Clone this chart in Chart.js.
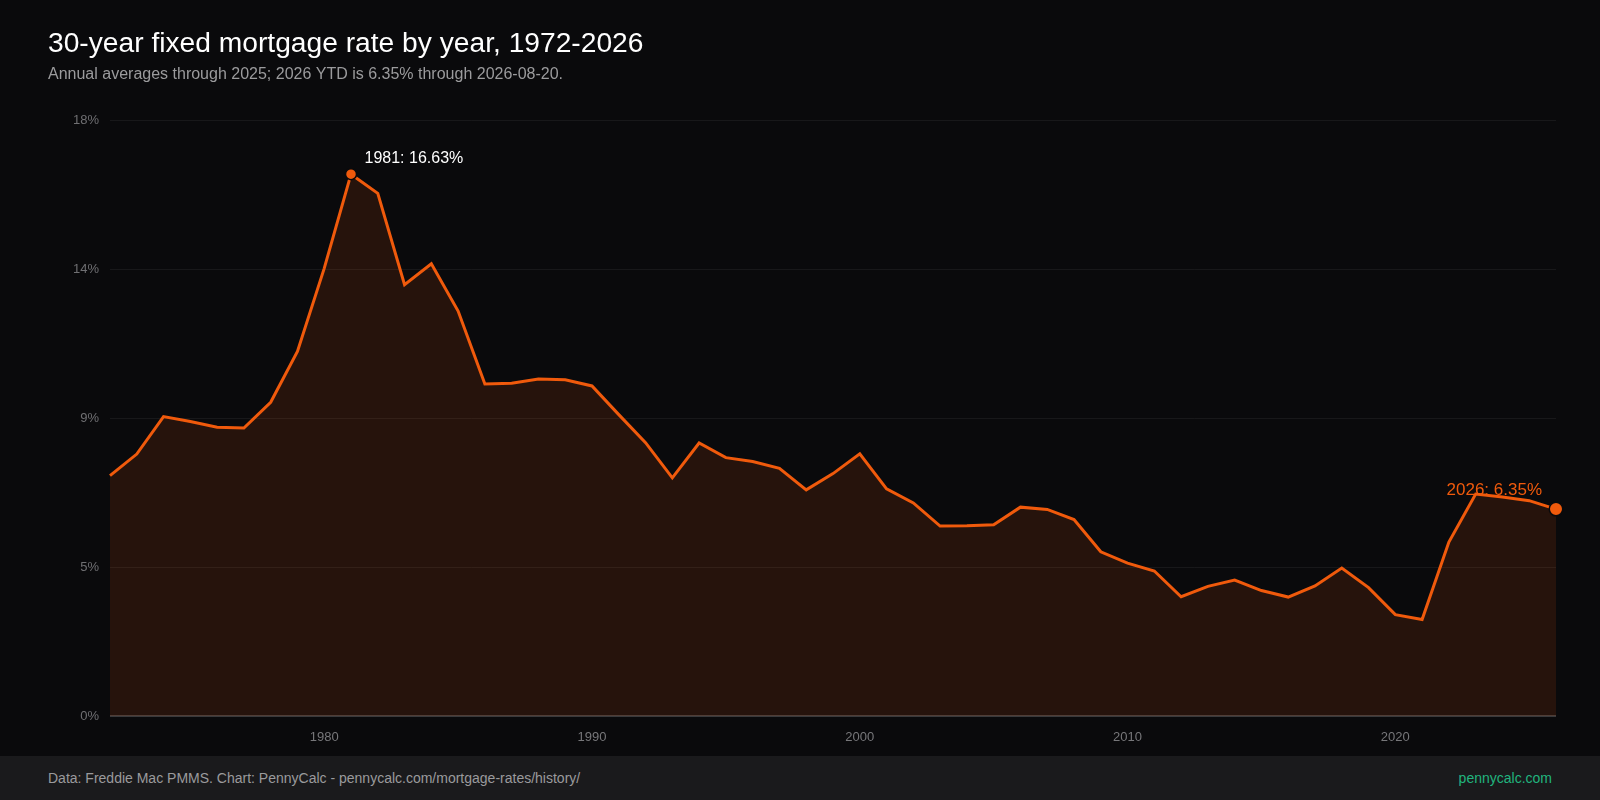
<!DOCTYPE html>
<html>
<head>
<meta charset="utf-8">
<title>30-year fixed mortgage rate by year, 1972-2026</title>
<script src="https://cdn.jsdelivr.net/npm/chart.js@4.4.1/dist/chart.umd.min.js"></script>
<style>
  html, body { margin: 0; padding: 0; background: #0a0a0c; }
  #wrap { width: 1600px; height: 756px; position: relative; }
  #footer {
    width: 1600px; height: 44px; line-height: 44px; background: #1a1a1c;
    position: relative; font-family: "Liberation Sans", Arial, Helvetica, sans-serif; font-size: 14px;
  }
  #footer .src { position: absolute; left: 48px; top: 0; color: #9a9a9c; }
  #footer .brand { position: absolute; right: 48px; top: 0; color: #21b47e; }
</style>
</head>
<body>
<div id="wrap"><canvas id="rateChart" width="1600" height="756"></canvas></div>
<div id="footer">
  <span class="src">Data: Freddie Mac PMMS. Chart: PennyCalc - pennycalc.com/mortgage-rates/history/</span>
  <span class="brand">pennycalc.com</span>
</div>
<script>
"use strict";

/*-- data --*/
var years = [1972, 1973, 1974, 1975, 1976, 1977, 1978, 1979, 1980, 1981,
             1982, 1983, 1984, 1985, 1986, 1987, 1988, 1989, 1990, 1991,
             1992, 1993, 1994, 1995, 1996, 1997, 1998, 1999, 2000, 2001,
             2002, 2003, 2004, 2005, 2006, 2007, 2008, 2009, 2010, 2011,
             2012, 2013, 2014, 2015, 2016, 2017, 2018, 2019, 2020, 2021,
             2022, 2023, 2024, 2025, 2026];
var rates = [7.38, 8.04, 9.19, 9.04, 8.86, 8.84, 9.63, 11.19, 13.74, 16.63,
             16.04, 13.24, 13.88, 12.43, 10.19, 10.21, 10.34, 10.32, 10.13, 9.25,
             8.39, 7.31, 8.38, 7.93, 7.81, 7.60, 6.94, 7.44, 8.05, 6.97,
             6.54, 5.83, 5.84, 5.87, 6.41, 6.34, 6.03, 5.04, 4.69, 4.45,
             3.66, 3.98, 4.17, 3.85, 3.65, 3.99, 4.54, 3.94, 3.11, 2.96,
             5.34, 6.81, 6.72, 6.61, 6.35];
var xTickYears = [1980, 1990, 2000, 2010, 2020];
var yTickLabels = ['0%', '5%', '9%', '14%', '18%'];
var highlightYears = [1981, 2026];

var FONT = '"Liberation Sans", Arial, Helvetica, sans-serif';
var ORANGE = '#f05a0c';
var yMax = Math.max.apply(null, rates) * 1.1;

/*-- header text --*/
var headerPlugin = {
  id: 'header',
  afterDraw: function (chart) {
    var ctx = chart.ctx;
    ctx.save();
    ctx.textAlign = 'left';
    ctx.textBaseline = 'alphabetic';
    ctx.fillStyle = '#ffffff';
    ctx.font = '28.2px ' + FONT;
    ctx.fillText('30-year fixed mortgage rate by year, 1972-2026', 48, 52);
    ctx.fillStyle = '#9b9b9d';
    ctx.font = '16px ' + FONT;
    ctx.fillText('Annual averages through 2025; 2026 YTD is 6.35% through 2026-08-20.', 48, 79);
    ctx.restore();
  }
};

/*-- point labels, drawn under the line --*/
var pointLabelPlugin = {
  id: 'pointLabels',
  beforeDatasetsDraw: function (chart) {
    var ctx = chart.ctx;
    var meta = chart.getDatasetMeta(0);
    ctx.save();
    ctx.textBaseline = 'alphabetic';
    highlightYears.forEach(function (yr, n) {
      var i = years.indexOf(yr);
      var pt = meta.data[i];
      var text = yr + ': ' + rates[i].toFixed(2) + '%';
      if (n === 0) {
        ctx.fillStyle = '#ffffff';
        ctx.font = '16px ' + FONT;
        ctx.textAlign = 'left';
        ctx.fillText(text, pt.x + 13.5, pt.y - 11.5);
      } else {
        ctx.fillStyle = ORANGE;
        ctx.font = '17px ' + FONT;
        ctx.textAlign = 'right';
        ctx.fillText(text, pt.x - 14, pt.y - 14);
      }
    });
    ctx.restore();
  }
};

// first highlight is the peak, last is the latest reading (drawn a bit larger)
function pointSize(c) {
  var n = highlightYears.indexOf(years[c.dataIndex]);
  if (n === -1) return 0;
  return n === 0 ? 5.5 : 6.75;
}

new Chart(document.getElementById('rateChart').getContext('2d'), {
  type: 'line',
  data: {
    datasets: [{
      label: '30-year fixed',
      data: years.map(function (yr, i) { return { x: yr, y: rates[i] }; }),
      borderColor: ORANGE,
      borderWidth: 3,
      backgroundColor: 'rgba(240, 90, 12, 0.125)',
      fill: 'origin',
      tension: 0,
      clip: false,
      pointRadius: pointSize,
      pointHoverRadius: 0,
      pointBackgroundColor: ORANGE,
      pointBorderColor: '#0a0a0c',
      pointBorderWidth: 1.5
    }]
  },
  plugins: [headerPlugin, pointLabelPlugin],
  options: {
    responsive: false,
    animation: false,
    devicePixelRatio: 1,
    layout: { padding: { top: 120, right: 44, bottom: 10.4, left: 48 } },
    plugins: {
      legend: { display: false },
      tooltip: { enabled: false }
    },
    scales: {
      x: {
        type: 'linear',
        min: years[0],
        max: years[years.length - 1],
        grid: { display: false, drawTicks: false },
        border: { display: false },
        afterFit: function (scale) { scale.height = 29.6; },
        afterBuildTicks: function (scale) {
          scale.ticks = xTickYears.map(function (v) { return { value: v }; });
        },
        ticks: {
          color: '#77777a',
          padding: 14,
          font: { family: FONT, size: 13 },
          callback: function (v) { return String(v); }
        }
      },
      y: {
        min: 0,
        max: yMax,
        afterFit: function (scale) { scale.width = 62; },
        afterBuildTicks: function (scale) {
          scale.ticks = yTickLabels.map(function (_, i) {
            return { value: yMax * i / (yTickLabels.length - 1) };
          });
        },
        grid: {
          drawTicks: false,
          color: function (c) { return c.index === 0 ? '#3a3a3c' : 'rgba(255, 255, 255, 0.06)'; },
          lineWidth: function (c) { return c.index === 0 ? 2 : 1; }
        },
        border: { display: false },
        ticks: {
          color: '#6f6f72',
          padding: 11,
          font: { family: FONT, size: 13 },
          callback: function (v, i) { return yTickLabels[i]; }
        }
      }
    }
  }
});
</script>
</body>
</html>
